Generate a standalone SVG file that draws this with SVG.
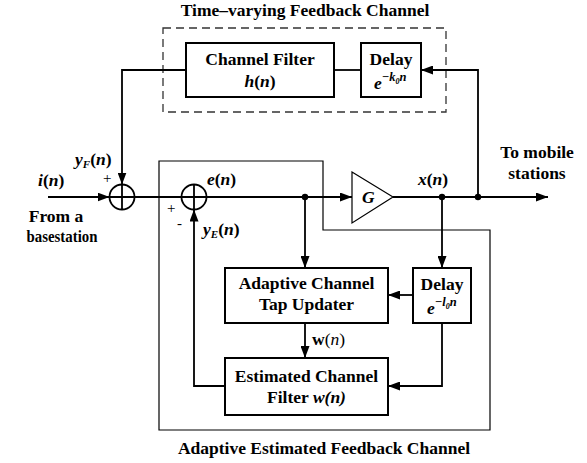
<svg xmlns="http://www.w3.org/2000/svg" width="587" height="463" viewBox="0 0 587 463">
<style>
text{font-family:"Liberation Serif","Times New Roman",serif;font-weight:bold;font-size:17.5px;fill:#000}
.c{text-anchor:middle}
.i{font-style:italic}
.box{fill:#fff;stroke:#000;stroke-width:2}
.ln{fill:none;stroke:#000;stroke-width:1.8}
.thin{fill:none;stroke:#000;stroke-width:1.2}
.dash{fill:none;stroke:#333;stroke-width:1.3;stroke-dasharray:8,5}
.sup{font-size:12.5px}
.sub0{font-size:8px}
.pm{font-weight:normal;font-size:15px}
</style>
<defs>
<marker id="arr" viewBox="0 0 12 9" refX="12" refY="4.5" markerWidth="12" markerHeight="9" orient="auto" markerUnits="userSpaceOnUse"><path d="M0,0 L12,4.5 L0,9 z" fill="#000"/></marker>
</defs>
<rect width="587" height="463" fill="#fff"/>

<g id="tvfc-frame">
<rect class="dash" x="163" y="28" width="283" height="84"/>
<text class="c" x="305" y="16">Time–varying Feedback Channel</text>
</g>
<g id="aefc-frame">
<path class="thin" d="M323,161 H159 V430 H490 V230 H323 Z"/>
<text class="c" x="324" y="454">Adaptive Estimated Feedback Channel</text>
</g>

<g id="connectors">
<path class="ln" d="M48,197 H109.5" marker-end="url(#arr)"/>
<path class="ln" d="M186,70 H122 V184.5" marker-end="url(#arr)"/>
<path class="ln" d="M134.5,197 H181.5"/>
<path class="ln" d="M206.5,197 H352" marker-end="url(#arr)"/>
<path class="ln" d="M393,197 H548" marker-end="url(#arr)"/>
<path class="ln" d="M305,197 V268" marker-end="url(#arr)"/>
<path class="ln" d="M442,197 V268" marker-end="url(#arr)"/>
<path class="ln" d="M478,197 V70 H421" marker-end="url(#arr)"/>
<path class="ln" d="M334,70 H361"/>
<path class="ln" d="M413,295 H388" marker-end="url(#arr)"/>
<path class="ln" d="M305,323 V358" marker-end="url(#arr)"/>
<path class="ln" d="M442,323 V386 H388" marker-end="url(#arr)"/>
<path class="ln" d="M225,386 H194 V209.5" marker-end="url(#arr)"/>
<circle cx="305" cy="197" r="3.2"/>
<circle cx="442" cy="197" r="3.2"/>
<circle cx="478" cy="197" r="3.2"/>
</g>

<g id="channel-filter">
<rect class="box" x="186" y="43" width="148" height="54"/>
<text class="c" x="260" y="65">Channel Filter</text>
<text class="c" x="260" y="87"><tspan class="i">h</tspan>(<tspan class="i">n</tspan>)</text>
</g>
<g id="delay-k">
<rect class="box" x="361" y="43" width="60" height="54"/>
<text class="c" x="391" y="65">Delay</text>
<text x="374" y="89" class="i">e<tspan class="sup" dy="-8">−k<tspan class="sub0" dy="3">0</tspan><tspan dy="-3">n</tspan></tspan></text>
</g>
<g id="sum1">
<circle cx="122" cy="197" r="12.5" fill="none" stroke="#000" stroke-width="1.8"/>
<path class="ln" d="M109.5,197 H134.5 M122,184.5 V209.5"/>
</g>
<g id="sum2">
<circle cx="194" cy="197" r="12.5" fill="none" stroke="#000" stroke-width="1.8"/>
<path class="ln" d="M181.5,197 H206.5 M194,184.5 V209.5"/>
</g>
<g id="gain">
<path d="M352,172 L393,197 L352,223 Z" fill="#fff" stroke="#000" stroke-width="1.2"/>
<text class="i" x="362" y="203">G</text>
</g>
<g id="tap-updater">
<rect class="box" x="225" y="268" width="163" height="55"/>
<text class="c" x="306.5" y="289">Adaptive Channel</text>
<text class="c" x="306.5" y="310">Tap Updater</text>
</g>
<g id="delay-l">
<rect class="box" x="413" y="268" width="58" height="55"/>
<text class="c" x="442" y="290">Delay</text>
<text x="427" y="314" class="i">e<tspan class="sup" dy="-8">−l<tspan class="sub0" dy="3">0</tspan><tspan dy="-3">n</tspan></tspan></text>
</g>
<g id="est-filter">
<rect class="box" x="225" y="358" width="163" height="57"/>
<text class="c" x="306.5" y="382">Estimated Channel</text>
<text class="c" x="306.5" y="403">Filter <tspan class="i">w(n)</tspan></text>
</g>

<g id="labels">
<text x="38" y="186"><tspan class="i">i</tspan>(<tspan class="i">n</tspan>)</text>
<text class="c" x="56" y="222">From a</text>
<text class="c" x="62" y="242" textLength="71" lengthAdjust="spacingAndGlyphs">basestation</text>
<text x="75" y="165"><tspan class="i">y</tspan><tspan class="i" font-size="11" dy="3">F</tspan><tspan dy="-3">(</tspan><tspan class="i">n</tspan>)</text>
<text class="pm" x="103" y="183">+</text>
<text x="207" y="185"><tspan class="i">e</tspan>(<tspan class="i">n</tspan>)</text>
<text class="pm" x="167" y="213">+</text>
<text class="pm" x="177" y="228">-</text>
<text x="203" y="235"><tspan class="i">y</tspan><tspan class="i" font-size="11" dy="3">E</tspan><tspan dy="-3">(</tspan><tspan class="i">n</tspan>)</text>
<text x="418" y="185"><tspan class="i">x</tspan>(<tspan class="i">n</tspan>)</text>
<text class="c" x="537" y="158">To mobile</text>
<text class="c" x="537" y="179">stations</text>
<text x="312" y="345">w<tspan font-weight="normal">(</tspan><tspan class="i" font-weight="normal">n</tspan><tspan font-weight="normal">)</tspan></text>
</g>
</svg>
